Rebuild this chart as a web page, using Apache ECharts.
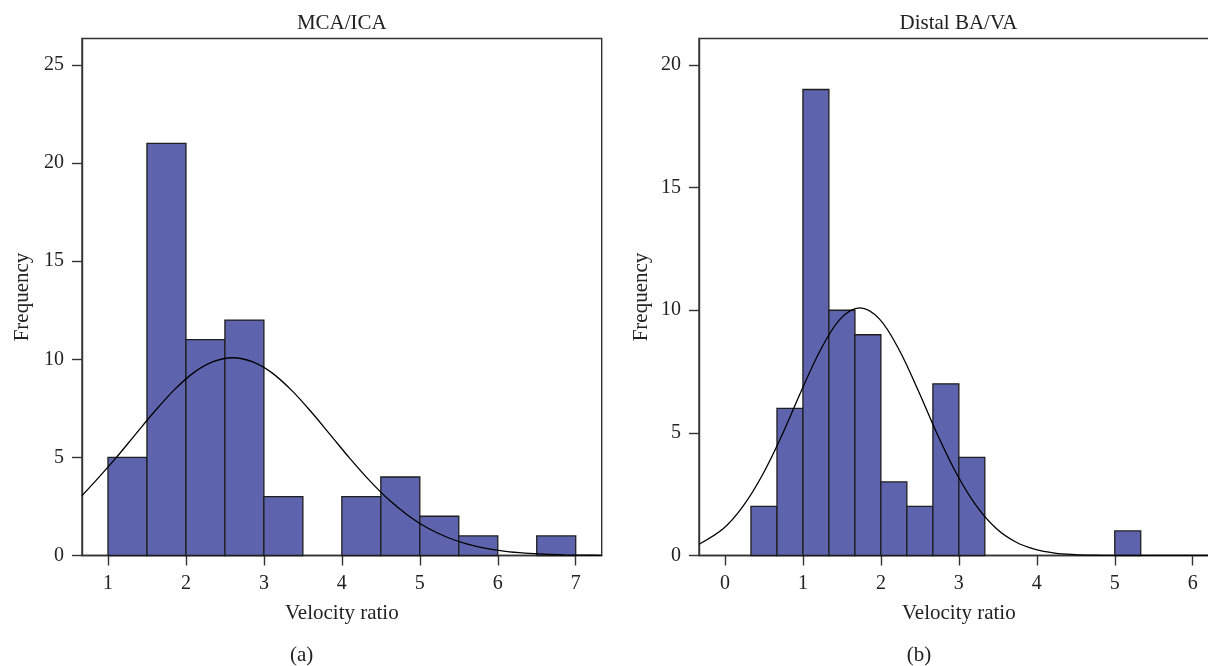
<!DOCTYPE html>
<html>
<head>
<meta charset="utf-8">
<script src="https://cdn.jsdelivr.net/npm/echarts@6/dist/echarts.min.js"></script>
<style>html,body{margin:0;padding:0;background:#fff}#c{width:1208px;height:666px}</style>
</head>
<body>
<div id="c"></div>
<script>
// ---- Panel (a): MCA/ICA ----
const titleA = 'MCA/ICA';
const binLowA  = [1, 1.5, 2, 2.5, 3, 3.5, 4, 4.5, 5, 5.5, 6, 6.5];
const binHighA = [1.5, 2, 2.5, 3, 3.5, 4, 4.5, 5, 5.5, 6, 6.5, 7];
const countsA  = [5, 21, 11, 12, 3, 0, 3, 4, 2, 1, 0, 1];
const curveXA = [0.667, 0.85, 1.1, 1.35, 1.6, 1.85, 2.1, 2.35, 2.6, 2.85, 3.1, 3.35, 3.6, 3.85, 4.1, 4.35, 4.6, 4.85, 5.1, 5.35, 5.6, 5.85, 6.1, 6.35, 6.6, 6.85, 7.1, 7.333];
const curveYA = [3.05, 3.84, 4.96, 6.16, 7.35, 8.44, 9.32, 9.88, 10.08, 9.88, 9.32, 8.44, 7.35, 6.16, 4.96, 3.84, 2.85, 2.04, 1.40, 0.93, 0.59, 0.36, 0.21, 0.12, 0.065, 0.034, 0.017, 0.009];
const xTicksA = [1, 2, 3, 4, 5, 6, 7];
const yTicksA = [0, 5, 10, 15, 20, 25];

// ---- Panel (b): Distal BA/VA ----
const titleB = 'Distal BA/VA';
const binLowB  = [0.333, 0.667, 1.0, 1.333, 1.667, 2.0, 2.333, 2.667, 3.0, 5.0];
const binHighB = [0.667, 1.0, 1.333, 1.667, 2.0, 2.333, 2.667, 3.0, 3.333, 5.333];
const countsB  = [2, 6, 19, 10, 9, 3, 2, 7, 4, 1];
const curveXB = [-0.333, -0.02, 0.23, 0.48, 0.73, 0.98, 1.23, 1.48, 1.73, 1.98, 2.23, 2.48, 2.73, 2.98, 3.23, 3.48, 3.73, 3.98, 4.23, 4.48, 4.73, 4.98, 5.48, 6.0, 6.333];
const curveYB = [0.46, 1.10, 2.00, 3.28, 4.90, 6.72, 8.41, 9.65, 10.10, 9.65, 8.41, 6.72, 4.90, 3.28, 2.00, 1.10, 0.55, 0.25, 0.10, 0.038, 0.013, 0.004, 0.0003, 0, 0];
const xTicksB = [0, 1, 2, 3, 4, 5, 6];
const yTicksB = [0, 5, 10, 15, 20];

const xName = 'Velocity ratio';
const yName = 'Frequency';
const captions = ['(a)', '(b)'];

const FONT = '"Liberation Serif", "DejaVu Serif", serif';
const AXC = '#333';
const BAR = '#5d63ad';

function barRender(params, api) {
  const c = api.value(2);
  if (!c) return null;
  const p0 = api.coord([api.value(0), c]);
  const p1 = api.coord([api.value(1), 0]);
  return {
    type: 'rect',
    shape: { x: p0[0], y: p0[1], width: p1[0] - p0[0], height: p1[1] - p0[1] },
    style: { fill: BAR, stroke: '#1e1e1e', lineWidth: 1.3 }
  };
}

function xAxisCfg(gi, min, max, ticks) {
  return {
    type: 'value', gridIndex: gi, min: min, max: max,
    splitLine: { show: false },
    axisLine: { show: true, onZero: false, lineStyle: { color: AXC, width: 1.4 } },
    axisTick: { show: true, length: 10, lineStyle: { color: AXC, width: 1.4 }, customValues: ticks },
    axisLabel: { customValues: ticks, margin: 18, fontFamily: FONT, fontSize: 20, color: '#222', showMinLabel: true, showMaxLabel: true },
    name: xName, nameLocation: 'middle', nameGap: 47,
    nameTextStyle: { fontFamily: FONT, fontSize: 21, color: '#222' }
  };
}
function yAxisCfg(gi, max, ticks, gap) {
  return {
    type: 'value', gridIndex: gi, min: 0, max: max,
    splitLine: { show: false },
    axisLine: { show: true, onZero: false, lineStyle: { color: AXC, width: 1.4 } },
    axisTick: { show: true, length: 10, lineStyle: { color: AXC, width: 1.4 }, customValues: ticks },
    axisLabel: { customValues: ticks, margin: 18, fontFamily: FONT, fontSize: 20, color: '#222' },
    name: yName, nameLocation: 'middle', nameGap: gap, nameRotate: 90,
    nameTextStyle: { fontFamily: FONT, fontSize: 21, color: '#222' }
  };
}

const chart = echarts.init(document.getElementById('c'), null, { renderer: 'canvas' });
chart.setOption({
  animation: false,
  backgroundColor: '#fff',
  grid: [
    { left: 82, top: 38.5, width: 519.7, height: 517, show: true, borderColor: AXC, borderWidth: 1.4, backgroundColor: 'transparent', outerBoundsMode: 'none', containLabel: false },
    { left: 699, top: 38.5, width: 519.7, height: 517, show: true, borderColor: AXC, borderWidth: 1.4, backgroundColor: 'transparent', outerBoundsMode: 'none', containLabel: false }
  ],
  xAxis: [xAxisCfg(0, 0.6667, 7.3333, xTicksA), xAxisCfg(1, -0.3333, 6.3333, xTicksB)],
  yAxis: [yAxisCfg(0, 26.35, yTicksA, 49), yAxisCfg(1, 21.08, yTicksB, 47)],
  graphic: [
    { type: 'text', x: 341.8, y: 23, style: { text: titleA, textAlign: 'center', textVerticalAlign: 'middle', font: '21px ' + FONT, fill: '#222' } },
    { type: 'text', x: 958.5, y: 23, style: { text: titleB, textAlign: 'center', textVerticalAlign: 'middle', font: '21px ' + FONT, fill: '#222' } },
    { type: 'text', x: 301.6, y: 655, style: { text: captions[0], textAlign: 'center', textVerticalAlign: 'middle', font: '21px ' + FONT, fill: '#222' } },
    { type: 'text', x: 919, y: 655, style: { text: captions[1], textAlign: 'center', textVerticalAlign: 'middle', font: '21px ' + FONT, fill: '#222' } }
  ],
  series: [
    { type: 'custom', xAxisIndex: 0, yAxisIndex: 0, renderItem: barRender, encode: { x: [0, 1], y: 2 },
      data: binLowA.map((l, i) => [l, binHighA[i], countsA[i]]) },
    { type: 'line', xAxisIndex: 0, yAxisIndex: 0, smooth: 0.35, symbol: 'none', z: 5,
      lineStyle: { color: '#000', width: 1.3 }, data: curveXA.map((x, i) => [x, curveYA[i]]) },
    { type: 'custom', xAxisIndex: 1, yAxisIndex: 1, renderItem: barRender, encode: { x: [0, 1], y: 2 },
      data: binLowB.map((l, i) => [l, binHighB[i], countsB[i]]) },
    { type: 'line', xAxisIndex: 1, yAxisIndex: 1, smooth: 0.35, symbol: 'none', z: 5,
      lineStyle: { color: '#000', width: 1.3 }, data: curveXB.map((x, i) => [x, curveYB[i]]) }
  ]
});
</script>
</body>
</html>
